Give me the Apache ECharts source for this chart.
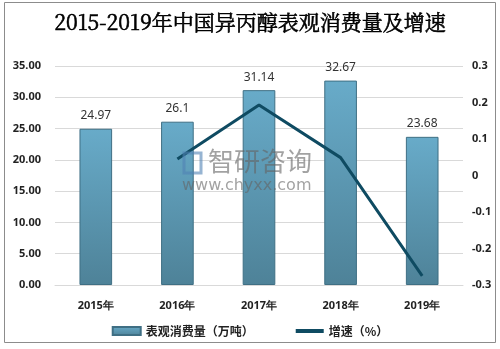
<!DOCTYPE html>
<html><head><meta charset="utf-8">
<script src="https://cdn.jsdelivr.net/npm/echarts@6/dist/echarts.min.js"></script>
<style>html,body{margin:0;padding:0;background:#fff}#c{width:500px;height:349px}</style>
</head><body><div id="c"></div>
<script>
const categories = ['2015年','2016年','2017年','2018年','2019年'];
const consumption = [24.97, 26.1, 31.14, 32.67, 23.68];
const growth = [null, 0.045, 0.193, 0.049, -0.275];
const leftTicks = {min:0, max:35, interval:5};
const rightTicks = {min:-0.3, max:0.3, interval:0.1};

const chart = echarts.init(document.getElementById('c'));
chart.setOption({
  animation:false,
  title:{text:'2015-2019年中国异丙醇表观消费量及增速', left:'center', top:7,
    textStyle:{fontFamily:'"Noto Serif CJK SC","DejaVu Serif",serif', fontSize:21, fontWeight:'normal', color:'#000',
      textBorderColor:'#000', textBorderWidth:0.6}},
  graphic:[
    {type:'rect', shape:{x:4.5,y:2.5,width:491,height:340}, style:{fill:'none', stroke:'#8c8c8c', lineWidth:1}, z:-1},
    {type:'text', left:208, top:148, style:{text:'智研咨询', fontSize:26, fill:'rgba(100,100,100,0.6)', fontFamily:'"Noto Sans CJK SC",sans-serif'}, z:100},
    {type:'text', left:182, top:178, style:{text:'www.chyxx.com', fontSize:16, fill:'rgba(100,100,100,0.6)', fontFamily:'"DejaVu Sans",sans-serif'}, z:100},
    {type:'rect', shape:{x:184,y:153,width:17,height:20}, style:{fill:'none', stroke:'rgba(80,130,180,0.6)', lineWidth:3}, z:100}
  ],
  legend:{bottom:7, left:'center', itemGap:40, itemWidth:28, itemHeight:8,
    textStyle:{fontFamily:'"Noto Sans CJK SC",sans-serif', fontSize:12, fontWeight:'bold', color:'#222'},
    data:[{name:'表观消费量（万吨）', icon:'rect'},{name:'增速（%）', itemStyle:{opacity:0}, lineStyle:{width:4}}]},
  grid:{left:55, right:37, top:66, bottom:64},
  xAxis:{type:'category', data:categories,
    axisLine:{lineStyle:{color:'#d9d9d9'}}, axisTick:{show:false},
    axisLabel:{fontFamily:'"Noto Sans","DejaVu Sans",sans-serif', fontWeight:'bold', fontSize:11, color:'#222', margin:15}},
  yAxis:[
    {type:'value', min:leftTicks.min, max:leftTicks.max, interval:leftTicks.interval,
     axisLine:{show:false}, axisTick:{show:false},
     splitLine:{lineStyle:{color:'#d9d9d9'}},
     axisLabel:{formatter:v=>v.toFixed(2), fontFamily:'"Noto Sans","DejaVu Sans",sans-serif', fontWeight:'bold', fontSize:11, color:'#222', margin:14}},
    {type:'value', min:rightTicks.min, max:rightTicks.max, interval:rightTicks.interval,
     axisLine:{show:false}, axisTick:{show:false}, splitLine:{show:false},
     axisLabel:{formatter:v=>String(Math.round(v*10)/10), fontFamily:'"Noto Sans","DejaVu Sans",sans-serif', fontWeight:'bold', fontSize:11, color:'#222', margin:9}}
  ],
  series:[
    {name:'表观消费量（万吨）', type:'bar', data:consumption, barWidth:'40%',
     itemStyle:{color:new echarts.graphic.LinearGradient(0,0,0,1,[{offset:0,color:'#68abc9'},{offset:1,color:'#4e8298'}]),
       borderColor:'#3f6f84', borderWidth:1},
     label:{show:true, position:'top', distance:7, fontFamily:'"Noto Sans","DejaVu Sans",sans-serif', fontSize:12, color:'#333'}},
    {name:'增速（%）', type:'line', yAxisIndex:1, data:growth, symbol:'none',
     lineStyle:{color:'#0f4b62', width:3}, itemStyle:{color:'#0f4b62'}}
  ]
});
</script></body></html>
